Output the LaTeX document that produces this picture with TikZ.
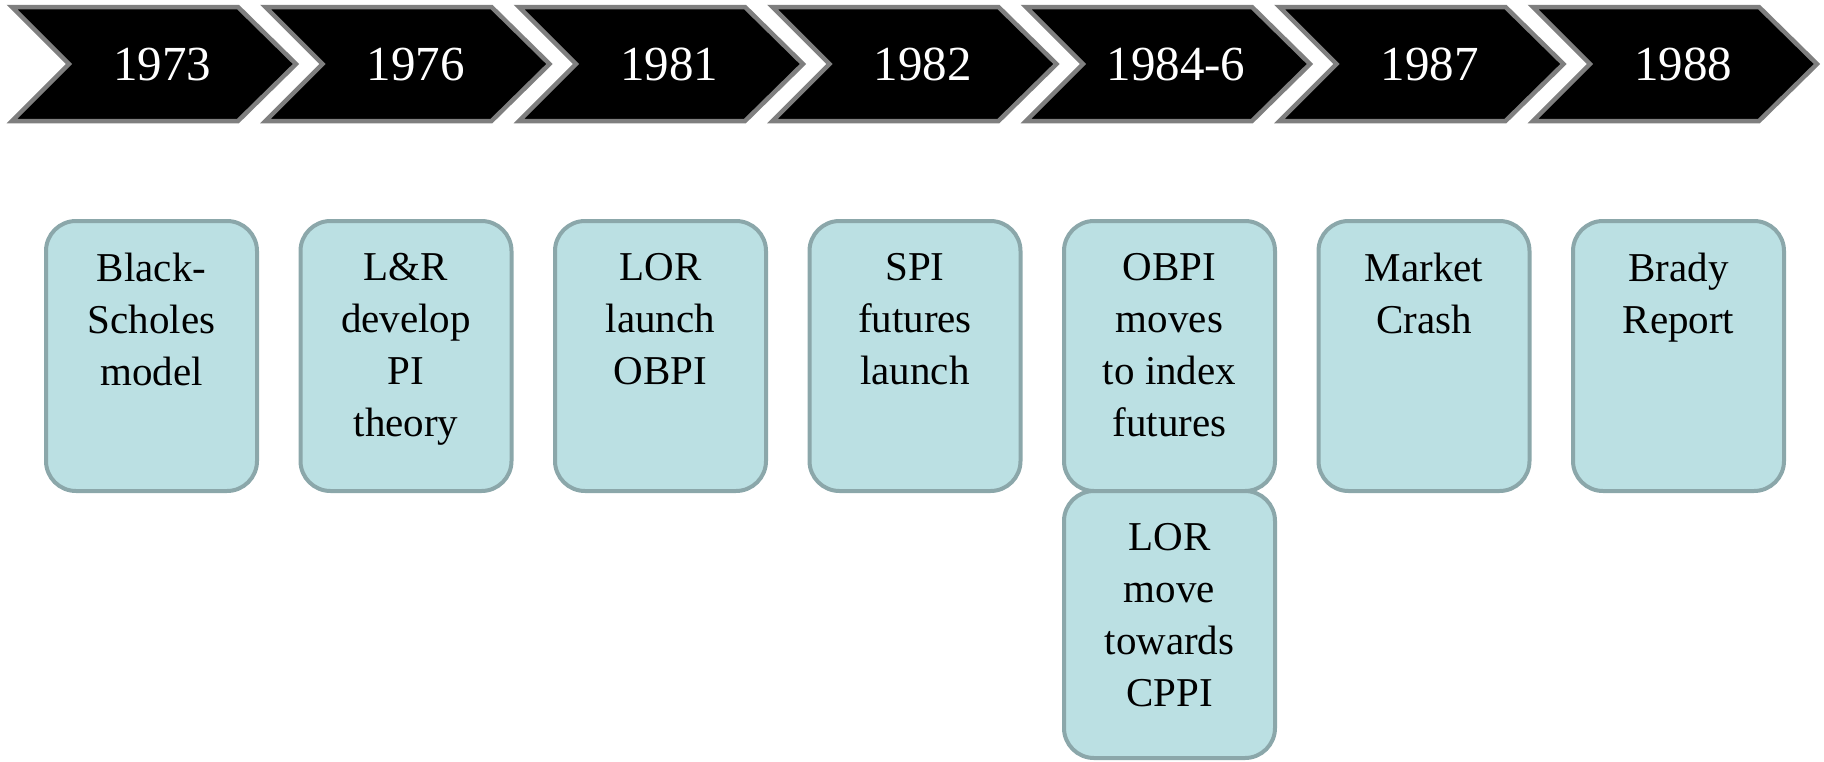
\documentclass[tikz,border=0pt]{standalone}
\usepackage{fontspec}
\setmainfont{Liberation Serif}
\usetikzlibrary{positioning}

\definecolor{chevronline}{HTML}{7F7F7F}
\definecolor{eventfill}{HTML}{BBE0E3}
\definecolor{eventline}{HTML}{8BA7AA}

\tikzset{
    chevron/.style={draw=chevronline, fill=black, line width=4.5pt},
    yeartext/.style={anchor=base, text=white, inner sep=0pt, font=\fontsize{49}{59}\selectfont},
    event/.style={draw=eventline, fill=eventfill, line width=4pt, rounded corners=30pt,
        minimum width=211pt, minimum height=270pt, inner sep=0pt},
    eventtext/.style={anchor=north, align=center, inner sep=0pt, font=\fontsize{41}{52}\selectfont}
}

\begin{document}
\begin{tikzpicture}[x=1pt, y=-1pt]
    \useasboundingbox (0,0) rectangle (1824,761);

    % Year chevrons
    \foreach \yr [count=\i from 0] in {1973,1976,1981,1982,1984-6,1987,1988}{
        \pgfmathsetmacro\xo{12+253.5*\i}
        \draw[chevron] (\xo,7) -- ++(226,0) -- ++(58,57) -- ++(-58,57)
            -- ++(-226,0) -- ++(57,-57) -- cycle;
        \node[yeartext] (yr\i) at (\xo+150,80) {\yr};
    }

    % Event boxes
    \foreach \txt [count=\i from 0] in {{Black-\\Scholes\\model},{L\&R\\develop\\PI\\theory},
        {LOR\\launch\\OBPI},{SPI\\futures\\launch},{OBPI\\moves\\to index\\futures},
        {Market\\Crash},{Brady\\Report}}{
        \node[event] (ev\i) at (151.5+254.5*\i,356) {};
        \node[eventtext, below=34pt of ev\i.north] (evtext\i) {\txt};
    }

    % Second event for 1984-6
    \node[event, minimum height=267pt, below=-4pt of ev4] (ev4b) {};
    \node[eventtext, below=34pt of ev4b.north] (evtext4b) {LOR\\move\\towards\\CPPI};
\end{tikzpicture}
\end{document}
